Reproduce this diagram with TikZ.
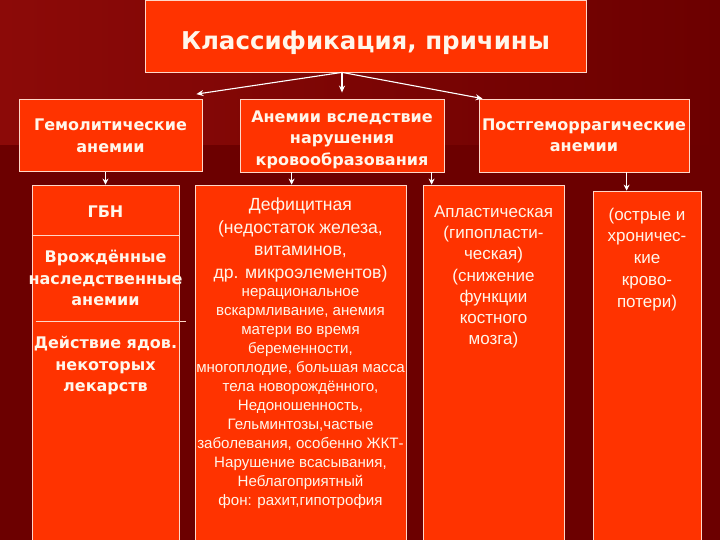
\documentclass[tikz,border=0pt]{standalone}
\usepackage{fontspec}
\setmainfont{DejaVu Sans}
\newfontfamily\regfont{Liberation Sans}
\usetikzlibrary{arrows.meta,positioning,calc}
\definecolor{bg}{RGB}{108,0,0}
\definecolor{bgl}{RGB}{140,10,8}
\definecolor{bx}{RGB}{255,51,0}
\definecolor{edge}{RGB}{255,215,200}
\definecolor{txt}{RGB}{255,246,235}

\begin{document}
\begin{tikzpicture}[x=1pt, y=-1pt,
    blk/.style={rectangle, draw=edge, fill=bx, line width=0.8pt, inner sep=0pt, minimum width=#1},
    hd/.style={font=\bfseries\fontsize{16}{21.5}\selectfont, text=txt, align=center, inner sep=0pt},
    rg/.style 2 args={font=\regfont\fontsize{#1}{#2}\selectfont, text=txt, align=center, inner sep=0pt, anchor=north},
    arr/.style={-{Stealth[length=7pt, width=6pt]}, line width=1.1pt, white},
    sarr/.style={-{Stealth[length=6pt, width=6pt]}, line width=0.8pt, white},
    sep/.style={line width=0.8pt, edge},
]
\useasboundingbox (0,0) rectangle (720,540);
\fill[bg] (0,0) rectangle (720,540);
\shade[left color=bgl, right color=bg] (0,0) rectangle (720,145);
\clip (0,0) rectangle (720,540);

% === TOP: title ===
\node[blk=441pt, minimum height=72pt] (ttl) at (365.5,36) {};
\node[font=\bfseries\fontsize{24.5}{28}\selectfont, text=txt, yshift=-7pt] (ttltxt) at (ttl) {Классификация, причины};

% === ROW 1: three groups ===
\node[blk=183pt, minimum height=72pt, hd, text depth=0pt] (hem) at (110.5,135.5) {Гемолитические\\анемии};
\node[blk=204pt, minimum height=73pt, hd] (anem) at (342,135.5) {};
\node[hd, yshift=-4pt] (anemtxt) at (anem) {Анемии вследствие\\нарушения\\кровообразования};
\node[blk=210pt, minimum height=73pt, hd] (post) at (584,135.5) {Постгеморрагические\\анемии};

\coordinate (fork) at ($(ttl.south)+(-23.5,0)$);
\coordinate (hemin) at ($(hem.north east)+(-6,-5)$);
\coordinate (anemin) at ($(anem.north)+(0,-6)$);
\coordinate (postin) at ($(post.north west)+(4,0)$);
\draw[arr] (fork) -- (hemin);
\draw[arr] (fork) -- (anemin);
\draw[arr] (fork) -- (postin);

% === ROW 2: columns ===
\node[blk=147pt, minimum height=362pt] (gbn) at (105.5,366) {};
\node[blk=211pt, minimum height=362pt] (defic) at (300.5,366) {};
\node[blk=141pt, minimum height=362pt] (apl) at (493.5,366) {};
\node[blk=108pt, minimum height=356pt] (ostr) at (647,369) {};

% hemolytic column
\node[hd, anchor=north, below=21pt of gbn.north] (gbn1) {ГБН};
\node[hd, anchor=north, below=65.5pt of gbn.north] (gbn2) {Врождённые\\наследственные\\анемии};
\node[hd, anchor=north, below=151.5pt of gbn.north] (gbn3) {Действие ядов.\\некоторых\\лекарств};
\draw[sep] ($(gbn.north west)+(0,51)$) -- ($(gbn.north east)+(0,51)$);
\draw[sep] ($(gbn.north west)+(4,137)$) -- ($(gbn.north east)+(7,137)$);

% deficiency column
\node[rg={17.6}{22.6}, below=13pt of defic.north] (defa) {Дефицитная\\(недостаток железа,\\витаминов,\\др. микроэлементов)};
\node[rg={15.1}{19}, below=103.5pt of defic.north] (defb) {нерациональное\\вскармливание, анемия\\матери во время\\беременности,\\многоплодие, большая масса\\тела новорождённого,\\Недоношенность,\\Гельминтозы,частые\\заболевания, особенно ЖКТ-\\Нарушение всасывания,\\Неблагоприятный\\фон: рахит,гипотрофия};

% aplastic column
\node[rg={17}{21.2}, below=21pt of apl.north] (apltxt) {Апластическая\\(гипопласти-\\ческая)\\(снижение\\функции\\костного\\мозга)};

% blood loss column
\node[rg={17}{21.8}, below=17pt of ostr.north] (ostrtxt) {(острые и\\хроничес-\\кие\\крово-\\потери)};

\coordinate (dtop) at ($(defic.north west)+(97,0)$);
\coordinate (atop) at ($(apl.north west)+(9,0)$);
\coordinate (otop) at ($(ostr.north west)+(34,0)$);
\draw[sarr] (hem.south -| gbn.north) -- (gbn.north);
\draw[sarr] (anem.south -| dtop) -- (dtop);
\draw[sarr] (anem.south -| atop) -- (atop);
\draw[sarr] (post.south -| otop) -- (otop);

\end{tikzpicture}
\end{document}
